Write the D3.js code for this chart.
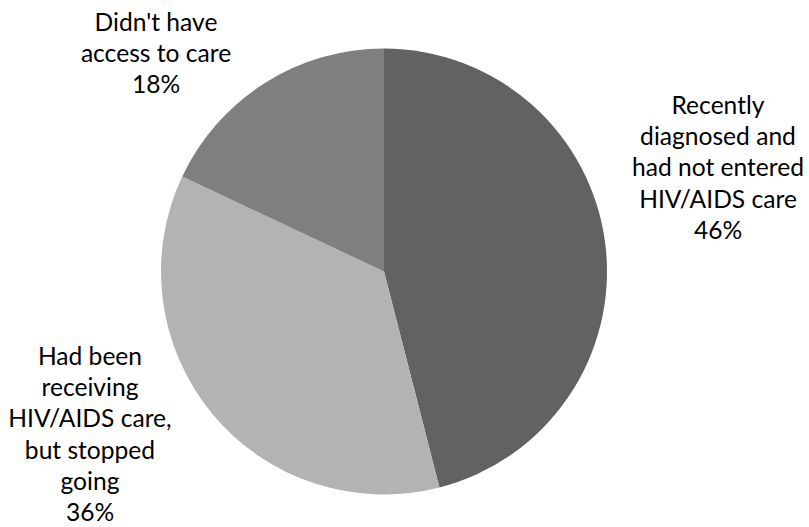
<!DOCTYPE html>
<html>
<head>
<meta charset="utf-8">
<script src="https://cdn.jsdelivr.net/npm/d3@7"></script>
<style>
  html, body { margin: 0; padding: 0; background: #fff; }
  svg { display: block; }
</style>
</head>
<body>
<svg id="chart" width="809" height="527"></svg>
<script>
const categories = [
  "Recently diagnosed and had not entered HIV/AIDS care",
  "Had been receiving HIV/AIDS care, but stopped going",
  "Didn't have access to care"
];
const values = [46, 36, 18];
const labelLines = [
  ["Recently", "diagnosed and", "had not entered", "HIV/AIDS care", "46%"],
  ["Had been", "receiving", "HIV/AIDS care,", "but stopped", "going", "36%"],
  ["Didn't have", "access to care", "18%"]
];
const colors = ["#626262", "#b3b3b3", "#7f7f7f"];

const svg = d3.select("#chart");
const cx = 384, cy = 271.5, r = 223;

const pie = d3.pie().sort(null).value(d => d)(values);
const arc = d3.arc().innerRadius(0).outerRadius(r);

const g = svg.append("g").attr("transform", `translate(${cx},${cy})`);
g.selectAll("path")
  .data(pie)
  .join("path")
  .attr("d", arc)
  .attr("fill", (d, i) => colors[i]);

// label block anchors (center x, first baseline y)
const anchors = [
  {x: 718, y: 114},
  {x: 90, y: 365},
  {x: 156, y: 31}
];
const lh = 31.2;
const fontFamily = "Lato, 'Open Sans', sans-serif";

labelLines.forEach((lines, i) => {
  const t = svg.append("text")
    .attr("text-anchor", "middle")
    .attr("font-family", fontFamily)
    .attr("font-size", 24.6)
    .attr("fill", "#000");
  lines.forEach((line, j) => {
    t.append("tspan")
      .attr("x", anchors[i].x)
      .attr("y", anchors[i].y + j * lh)
      .text(line);
  });
});
</script>
</body>
</html>
